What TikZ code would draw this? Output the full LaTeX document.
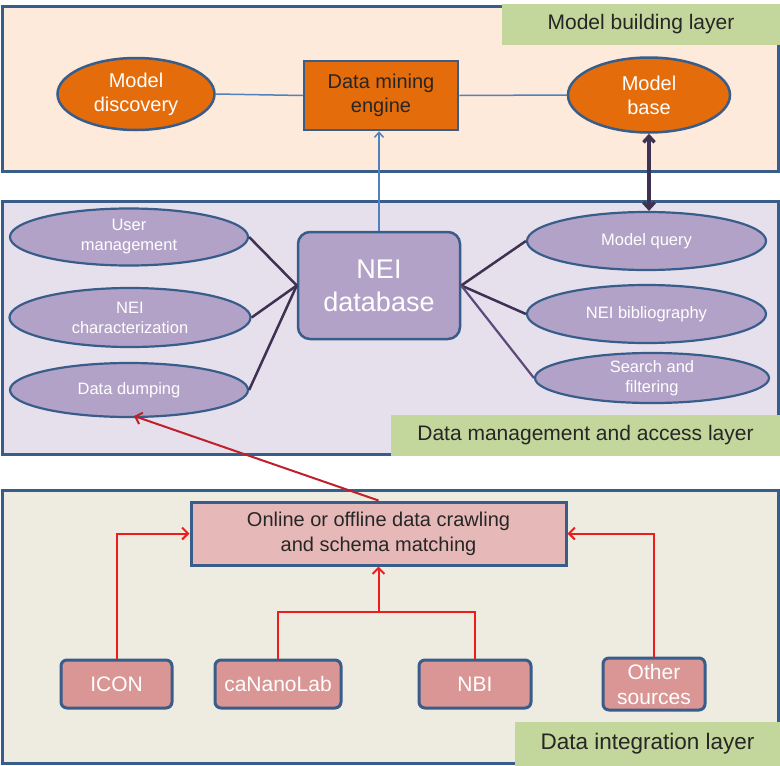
\documentclass[tikz,border=0pt]{standalone}
\usepackage{fontspec}
\setmainfont{Liberation Sans}
\usetikzlibrary{shapes.geometric,arrows.meta}
\definecolor{layerblue}{HTML}{385D8A}
\definecolor{edgeblue}{HTML}{385D8A}
\definecolor{topfill}{HTML}{FDEADA}
\definecolor{midfill}{HTML}{E5E0EC}
\definecolor{botfill}{HTML}{EEECE1}
\definecolor{taggreen}{HTML}{C3D69B}
\definecolor{orangef}{HTML}{E46C0A}
\definecolor{purplef}{HTML}{B3A2C7}
\definecolor{crawlf}{HTML}{E6B9B8}
\definecolor{srcf}{HTML}{D99694}
\definecolor{redline}{HTML}{EE1C1C}
\definecolor{darkred}{HTML}{C0202A}
\definecolor{lightblue}{HTML}{4F81BD}
\definecolor{darkpurple}{HTML}{3F3151}
\definecolor{midpurple}{HTML}{5F497A}
\definecolor{textdark}{HTML}{262626}
\begin{document}
\begin{tikzpicture}[x=1pt,y=-1pt,
  layerbox/.style={draw=layerblue, line width=3pt, inner sep=0pt, rectangle},
  tagbox/.style={fill=taggreen, inner sep=0pt, text=textdark, font=\fontsize{21}{25}\selectfont},
  orangeell/.style={ellipse, draw=edgeblue, line width=2.5pt, fill=orangef, text=white,
     font=\fontsize{20}{24}\selectfont, align=center, inner sep=0pt},
  orangebox/.style={rectangle, draw=edgeblue, line width=2.5pt, fill=orangef, text=textdark,
     font=\fontsize{20}{24}\selectfont, align=center, inner sep=0pt},
  purpell/.style={ellipse, draw=edgeblue, line width=2.2pt, fill=purplef, text=white,
     font=\fontsize{16.5}{20}\selectfont, align=center, inner sep=0pt,
     minimum width=238, minimum height=57},
  dbbox/.style={rectangle, rounded corners=12pt, draw=edgeblue, line width=2.5pt, fill=purplef,
     text=white, font=\fontsize{27}{33}\selectfont, align=center, inner sep=0pt},
  crawlbox/.style={rectangle, draw=edgeblue, line width=3pt, fill=crawlf, text=textdark,
     font=\fontsize{20}{25}\selectfont, align=center, inner sep=0pt},
  srcbox/.style={rectangle, rounded corners=6pt, draw=edgeblue, line width=3pt, fill=srcf,
     text=white, font=\fontsize{21}{25}\selectfont, align=center, inner sep=0pt,
     minimum height=48},
  purpline/.style={draw=darkpurple, line width=2.5pt},
  redarr/.style={draw=redline, line width=2pt, -{Straight Barb[length=6pt,width=12pt]}},
  redplain/.style={draw=redline, line width=2pt},
]
\useasboundingbox (0,0) rectangle (780,766);

% layers
\node[layerbox, fill=topfill, minimum width=776, minimum height=165] (toplayer) at (390.5,88.5) {};
\node[layerbox, fill=midfill, minimum width=776, minimum height=253] (midlayer) at (390.5,327.5) {};
\node[layerbox, fill=botfill, minimum width=776, minimum height=273] (botlayer) at (390.5,626.5) {};

% layer tags
\node[tagbox, minimum width=278, minimum height=41] (toptag) at (641,24.5) {Model building layer};
\node[tagbox, minimum width=389, minimum height=41] (midtag) at (585.5,435.5) {Data management and access layer};
\node[tagbox, minimum width=265, minimum height=44, font=\fontsize{22.5}{26}\selectfont] (bottag) at (647.5,744) {Data integration layer};

% model building layer
\node[orangeell, minimum width=157, minimum height=72] (disc) at (136,94) {Model\\discovery};
\node[orangebox, minimum width=154, minimum height=69] (dme) at (381,95.5) {Data mining\\engine};
\node[orangeell, minimum width=162, minimum height=75] (base) at (649,95) {Model\\base};
\draw[draw=lightblue, line width=1.5pt] (disc.east) -- (dme.west);
\draw[draw=lightblue, line width=1.5pt] (dme.east) -- (base.west);

% data management layer
\node[purpell] (user) at (129,237) {User\\management};
\node[purpell, minimum width=241, minimum height=59] (char) at (130,317.5) {NEI\\characterization};
\node[purpell, minimum height=54] (dump) at (129,390) {Data dumping};
\node[purpell, minimum width=239, minimum height=58] (query) at (646.5,241) {Model query};
\node[purpell, minimum width=239, minimum height=58] (bib) at (646.5,314) {NEI bibliography};
\node[purpell, minimum width=234, minimum height=50] (search) at (652,378) {Search and\\filtering};
\node[dbbox, minimum width=162, minimum height=107] (db) at (379,285.5) {NEI\\database};

\draw[purpline] (user.east) -- (db.west);
\draw[purpline] (char.east) -- (db.west);
\draw[purpline] (dump.east) -- (db.west);
\draw[purpline] (db.east) -- (query.west);
\draw[purpline] (db.east) -- (bib.west);
\draw[draw=midpurple, line width=2.2pt] (db.east) -- (search.west);

\draw[draw=lightblue, line width=1.5pt, -{Straight Barb[length=5pt,width=9pt]}] (db.north) -- (db.north |- dme.south);
\draw[draw=darkpurple, line width=3.5pt, {Straight Barb[length=6pt,width=11pt]}-{Straight Barb[length=6pt,width=11pt]}]
  (base.south) -- (base.south |- query.north);

% data integration layer
\node[crawlbox, minimum width=375, minimum height=63] (crawl) at (378.5,533.5) {Online or offline data crawling\\and schema matching};
\node[srcbox, minimum width=111] (icon) at (116.5,684) {ICON};
\node[srcbox, minimum width=126] (cnl) at (278,684) {caNanoLab};
\node[srcbox, minimum width=112] (nbi) at (475,684) {NBI};
\node[srcbox, minimum width=102, minimum height=52] (other) at (654,684) {Other\\sources};

\coordinate (join) at (378.5,612);
\draw[redarr] (icon.north) |- (crawl.west);
\draw[redarr] (other.north) |- (crawl.east);
\draw[redplain] (cnl.north) |- (join) -| (nbi.north);
\draw[redarr] (join) -- (crawl.south);

\draw[draw=darkred, line width=2pt, -{Straight Barb[length=6pt,width=12pt]}] (crawl.north) -- (134,416);
\end{tikzpicture}
\end{document}
